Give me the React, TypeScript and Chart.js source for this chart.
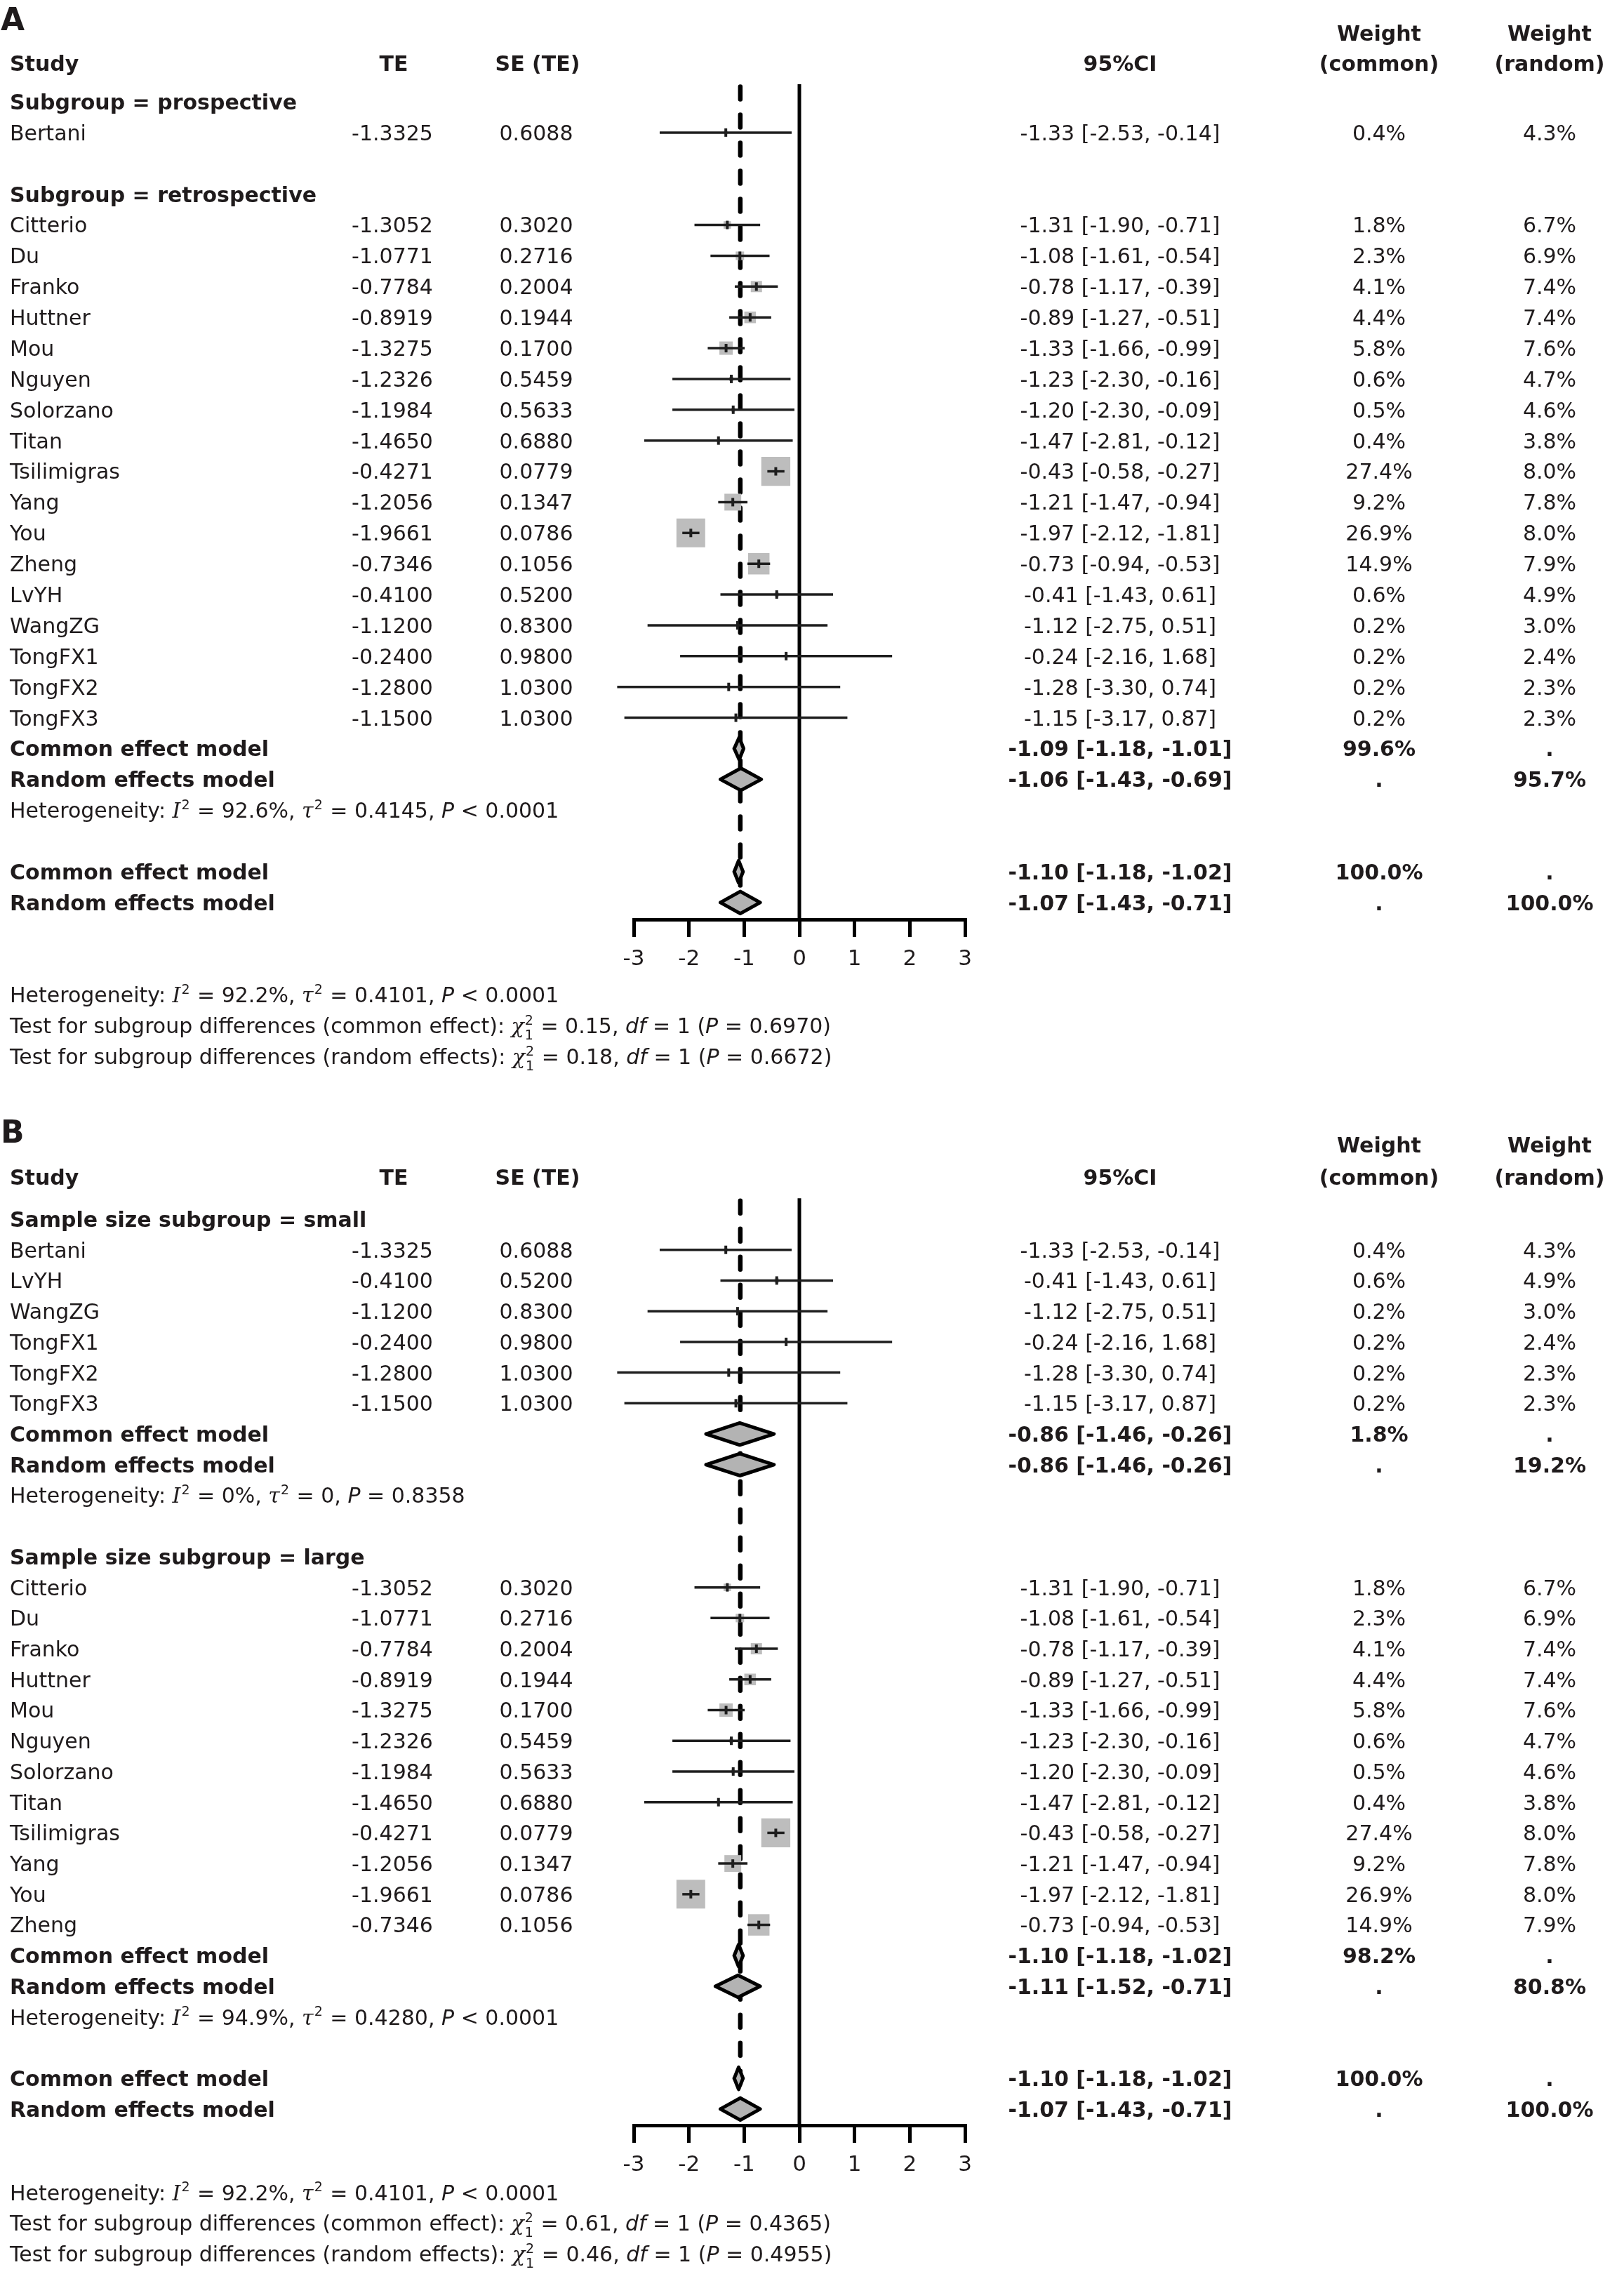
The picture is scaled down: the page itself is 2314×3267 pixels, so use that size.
import React, { useEffect, useRef } from 'react';
import { Chart, registerables } from 'chart.js';

Chart.register(...registerables);

// ---------------- data ----------------
const studyNames = ['Bertani', 'Citterio', 'Du', 'Franko', 'Huttner', 'Mou', 'Nguyen', 'Solorzano', 'Titan', 'Tsilimigras', 'Yang', 'You', 'Zheng', 'LvYH', 'WangZG', 'TongFX1', 'TongFX2', 'TongFX3'];
const studyTE = [-1.3325, -1.3052, -1.0771, -0.7784, -0.8919, -1.3275, -1.2326, -1.1984, -1.465, -0.4271, -1.2056, -1.9661, -0.7346, -0.41, -1.12, -0.24, -1.28, -1.15];
const studySE = [0.6088, 0.302, 0.2716, 0.2004, 0.1944, 0.17, 0.5459, 0.5633, 0.688, 0.0779, 0.1347, 0.0786, 0.1056, 0.52, 0.83, 0.98, 1.03, 1.03];
const ciLower = [-2.53, -1.9, -1.61, -1.17, -1.27, -1.66, -2.3, -2.3, -2.81, -0.58, -1.47, -2.12, -0.94, -1.43, -2.75, -2.16, -3.3, -3.17];
const ciUpper = [-0.14, -0.71, -0.54, -0.39, -0.51, -0.99, -0.16, -0.09, -0.12, -0.27, -0.94, -1.81, -0.53, 0.61, 0.51, 1.68, 0.74, 0.87];
const weightCommon = [0.4, 1.8, 2.3, 4.1, 4.4, 5.8, 0.6, 0.5, 0.4, 27.4, 9.2, 26.9, 14.9, 0.6, 0.2, 0.2, 0.2, 0.2];
const weightRandom = [4.3, 6.7, 6.9, 7.4, 7.4, 7.6, 4.7, 4.6, 3.8, 8.0, 7.8, 8.0, 7.9, 4.9, 3.0, 2.4, 2.3, 2.3];

const groupLabelsA = ['Subgroup = prospective', 'Subgroup = retrospective'];
const groupMembersA = [
  ['Bertani'],
  ['Citterio', 'Du', 'Franko', 'Huttner', 'Mou', 'Nguyen', 'Solorzano', 'Titan', 'Tsilimigras', 'Yang', 'You', 'Zheng', 'LvYH', 'WangZG', 'TongFX1', 'TongFX2', 'TongFX3'],
];
const groupCommonA = [null, [-1.09, -1.18, -1.01, 99.6]];
const groupRandomA = [null, [-1.06, -1.43, -0.69, 95.7]];
const groupHetA = [null, ['92.6%', '0.4145', '< 0.0001']];

const groupLabelsB = ['Sample size subgroup = small', 'Sample size subgroup = large'];
const groupMembersB = [
  ['Bertani', 'LvYH', 'WangZG', 'TongFX1', 'TongFX2', 'TongFX3'],
  ['Citterio', 'Du', 'Franko', 'Huttner', 'Mou', 'Nguyen', 'Solorzano', 'Titan', 'Tsilimigras', 'Yang', 'You', 'Zheng'],
];
const groupCommonB = [[-0.86, -1.46, -0.26, 1.8], [-1.1, -1.18, -1.02, 98.2]];
const groupRandomB = [[-0.86, -1.46, -0.26, 19.2], [-1.11, -1.52, -0.71, 80.8]];
const groupHetB = [['0%', '0', '= 0.8358'], ['94.9%', '0.4280', '< 0.0001']];
// diamonds of the "small" subgroup as they are actually plotted in the figure
const plottedDiamondB = [[-1.08, -1.69, -0.46], null];

const overallCommon = [-1.1, -1.18, -1.02, 100.0];
const overallRandom = [-1.07, -1.43, -0.71, 100.0];
const overallHet = ['92.2%', '0.4101', '< 0.0001'];
const subgroupTestA = [['common effect', '0.15', '0.6970'], ['random effects', '0.18', '0.6672']];
const subgroupTestB = [['common effect', '0.61', '0.4365'], ['random effects', '0.46', '0.4955']];

const xTicks = [-3, -2, -1, 0, 1, 2, 3];
const columnHeaders = ['Study', 'TE', 'SE (TE)', '95%CI'];
const weightHeaders = [['Weight', '(common)'], ['Weight', '(random)']];

// ---------------- layout / style ----------------
const W = 2314;
const X_LEFT = 903;
const X_RIGHT = 1375;
const AXIS_H = 80;
const FS = 30;
const FAMILY = '"DejaVu Sans", Verdana, sans-serif';
const INK = '#1f1b1c';
const DH = 0.36;
const COL = { study: 14, te: 559, se: 764, ci: 1596, wc: 1965, wr: 2208 };

const PANELS = [
  {
    key: 'A', top: 0, height: 1545, row0: 145, pitch: 43.88, yMin: -0.57, axisRow: 26.55,
    labelRow: -2.69, weightRow: -2.24, headRow: -1.25, footRow: 29,
    labels: groupLabelsA, members: groupMembersA, commons: groupCommonA, randoms: groupRandomA, hets: groupHetA, tests: subgroupTestA,
    plotted: [null, null],
  },
  {
    key: 'B', top: 1545, height: 1722, row0: 192, pitch: 43.72, yMin: -0.68, axisRow: 29.53,
    labelRow: -2.86, weightRow: -2.42, headRow: -1.37, footRow: 31.72,
    labels: groupLabelsB, members: groupMembersB, commons: groupCommonB, randoms: groupRandomB, hets: groupHetB, tests: subgroupTestB,
    plotted: plottedDiamondB,
  },
];

const fmt2 = (v: number) => {
  const a = Math.round(Math.abs(v) * 100 + 1e-7) / 100;
  return (v < 0 && a !== 0 ? '-' : '') + a.toFixed(2);
};
const fmt4 = (v: number) => (v < 0 ? '-' : '') + Math.abs(v).toFixed(4);
const ciText = (e: number, l: number, h: number) => `${fmt2(e)} [${fmt2(l)}, ${fmt2(h)}]`;
const pct = (w: number) => `${w.toFixed(1)}%`;

function buildRows(p: any) {
  const rows: any[] = [];
  p.labels.forEach((lab: string, g: number) => {
    rows.push({ kind: 'header', text: lab });
    p.members[g].forEach((name: string) => rows.push({ kind: 'study', i: studyNames.indexOf(name) }));
    if (p.commons[g]) {
      const pl = p.plotted[g];
      rows.push({ kind: 'common', v: p.commons[g], d: pl || p.commons[g] });
      rows.push({ kind: 'random', v: p.randoms[g], d: pl || p.randoms[g] });
      rows.push({ kind: 'het', h: p.hets[g] });
    }
    rows.push({ kind: 'blank' });
  });
  rows.push({ kind: 'common', v: overallCommon, d: overallCommon });
  rows.push({ kind: 'random', v: overallRandom, d: overallRandom });
  return rows.map((r, k) => ({ ...r, k }));
}

function put(ctx: any, s: string, x: number, yc: number, align: string, bold: boolean, size = FS) {
  ctx.font = `${bold ? 'bold ' : ''}${size}px ${FAMILY}`;
  ctx.textAlign = align;
  ctx.textBaseline = 'alphabetic';
  ctx.fillStyle = INK;
  ctx.fillText(s, x, yc + (size * 0.729) / 2);
}

function putRich(ctx: any, segs: any[], x: number, yc: number) {
  const base = yc + (FS * 0.729) / 2;
  let cx = x;
  ctx.textAlign = 'left';
  ctx.textBaseline = 'alphabetic';
  ctx.fillStyle = INK;
  for (const s of segs) {
    ctx.font = s.f === 'i' ? `italic ${FS}px ${FAMILY}` : s.f === 's' ? `italic ${FS}px "DejaVu Serif", serif` : `${FS}px ${FAMILY}`;
    ctx.fillText(s.t, cx, base);
    cx += ctx.measureText(s.t).width;
    if (s.sup || s.sub) {
      const ss = Math.round(FS * 0.62);
      ctx.font = `${ss}px ${FAMILY}`;
      let w = 0;
      if (s.sup) { ctx.fillText(s.sup, cx + 1, base - FS * 0.42); w = Math.max(w, ctx.measureText(s.sup).width); }
      if (s.sub) { ctx.fillText(s.sub, cx + 1, base + FS * 0.3); w = Math.max(w, ctx.measureText(s.sub).width); }
      cx += w + 2;
    }
  }
}

const EQ = ' = ';
function hetSegs(h: string[]) {
  const op = h[2].slice(0, 1);
  const rest = h[2].slice(1).trim();
  return [
    { t: 'Heterogeneity: ' },
    { t: 'I', f: 's', sup: '2' },
    { t: `${EQ}${h[0]}, ` },
    { t: '\u03C4', f: 's', sup: '2' },
    { t: `${EQ}${h[1]}, ` },
    { t: 'P', f: 'i' },
    { t: ` ${op} ${rest}` },
  ];
}
function testSegs(t: string[]) {
  return [
    { t: `Test for subgroup differences (${t[0]}): ` },
    { t: '\u03C7', f: 's', sup: '2', sub: '1' },
    { t: `${EQ}${t[1]}, ` },
    { t: 'df', f: 'i' },
    { t: `${EQ}1 (` },
    { t: 'P', f: 'i' },
    { t: `${EQ}${t[2]})` },
  ];
}

function makeConfig(p: any) {
  const rows = buildRows(p);
  const studyRows = rows.filter((r) => r.kind === 'study');
  const sumRows = rows.filter((r) => r.kind === 'common' || r.kind === 'random');
  const lastRandom = sumRows[sumRows.length - 1].k;
  const areaTop = p.row0 + p.yMin * p.pitch;
  const areaBottom = p.row0 + p.axisRow * p.pitch;

  const datasets: any[] = [];
  datasets.push({
    data: [{ x: 0, y: p.yMin }, { x: 0, y: p.axisRow }],
    borderColor: '#000', borderWidth: 5, pointRadius: 0, order: 10, clip: false,
  });
  datasets.push({
    data: [{ x: overallRandom[0], y: p.yMin + 0.08 }, { x: overallRandom[0], y: lastRandom - DH }],
    borderColor: '#000', borderWidth: 6.5, borderDash: [18, 22], borderCapStyle: 'round', pointRadius: 0, order: 9, clip: false,
  });
  datasets.push({
    data: studyRows.map((r) => ({ x: studyTE[r.i], y: r.k })),
    showLine: false, pointStyle: 'rect',
    pointRadius: studyRows.map((r) => (7.9 * Math.sqrt(weightCommon[r.i])) / Math.SQRT2),
    pointBackgroundColor: '#bdbdbd', pointBorderColor: '#bdbdbd', pointBorderWidth: 0, order: 6, clip: false,
  });
  studyRows.forEach((r) => {
    datasets.push({
      data: [{ x: ciLower[r.i], y: r.k }, { x: ciUpper[r.i], y: r.k }],
      borderColor: '#1e1e1e', borderWidth: 3.5, pointRadius: 0, order: 5, clip: false,
    });
  });
  datasets.push({
    data: studyRows.map((r) => ({ x: studyTE[r.i], y: r.k })),
    showLine: false, pointStyle: 'line', pointRotation: 90, pointRadius: 6,
    pointBorderWidth: 4, pointBorderColor: '#1e1e1e', order: 4, clip: false,
  });
  sumRows.forEach((r) => {
    const v = r.d;
    datasets.push({
      data: [
        { x: v[1], y: r.k }, { x: v[0], y: r.k - DH }, { x: v[2], y: r.k }, { x: v[0], y: r.k + DH }, { x: v[1], y: r.k },
      ],
      borderColor: '#000', borderWidth: 5, borderJoinStyle: 'round', borderCapStyle: 'round',
      backgroundColor: '#b3b3b3', fill: 'shape', pointRadius: 0, order: 1, clip: false,
    });
  });

  const textPlugin = {
    id: 'forestText' + p.key,
    afterDraw(chart: any) {
      const ctx = chart.ctx;
      const ys = chart.scales.y;
      const Y = (r: number) => ys.getPixelForValue(r);
      ctx.save();
      put(ctx, p.key, 1, Y(p.labelRow), 'left', true, 44);
      put(ctx, columnHeaders[0], COL.study, Y(p.headRow), 'left', true);
      put(ctx, columnHeaders[1], COL.te + 2, Y(p.headRow), 'center', true);
      put(ctx, columnHeaders[2], COL.se + 2, Y(p.headRow), 'center', true);
      put(ctx, columnHeaders[3], COL.ci, Y(p.headRow), 'center', true);
      put(ctx, weightHeaders[0][0], COL.wc, Y(p.weightRow), 'center', true);
      put(ctx, weightHeaders[0][1], COL.wc, Y(p.headRow), 'center', true);
      put(ctx, weightHeaders[1][0], COL.wr, Y(p.weightRow), 'center', true);
      put(ctx, weightHeaders[1][1], COL.wr, Y(p.headRow), 'center', true);

      rows.forEach((r) => {
        const y = Y(r.k);
        if (r.kind === 'header') {
          put(ctx, r.text, COL.study, y, 'left', true);
        } else if (r.kind === 'study') {
          const i = r.i;
          put(ctx, studyNames[i], COL.study, y, 'left', false);
          put(ctx, fmt4(studyTE[i]), COL.te, y, 'center', false);
          put(ctx, studySE[i].toFixed(4), COL.se, y, 'center', false);
          put(ctx, ciText(studyTE[i], ciLower[i], ciUpper[i]), COL.ci, y, 'center', false);
          put(ctx, pct(weightCommon[i]), COL.wc, y, 'center', false);
          put(ctx, pct(weightRandom[i]), COL.wr, y, 'center', false);
        } else if (r.kind === 'common' || r.kind === 'random') {
          const v = r.v;
          put(ctx, r.kind === 'common' ? 'Common effect model' : 'Random effects model', COL.study, y, 'left', true);
          put(ctx, ciText(v[0], v[1], v[2]), COL.ci, y, 'center', true);
          put(ctx, r.kind === 'common' ? pct(v[3]) : '.', COL.wc, y, 'center', true);
          put(ctx, r.kind === 'random' ? pct(v[3]) : '.', COL.wr, y, 'center', true);
        } else if (r.kind === 'het') {
          putRich(ctx, hetSegs(r.h), COL.study, y);
        }
      });

      putRich(ctx, hetSegs(overallHet), COL.study, Y(p.footRow));
      putRich(ctx, testSegs(p.tests[0]), COL.study, Y(p.footRow + 1));
      putRich(ctx, testSegs(p.tests[1]), COL.study, Y(p.footRow + 2));
      ctx.restore();
    },
  };

  return {
    type: 'line',
    data: { datasets },
    options: {
      responsive: false,
      animation: false,
      devicePixelRatio: 1,
      events: [],
      layout: {
        padding: { left: X_LEFT, right: W - X_RIGHT, top: areaTop, bottom: p.height - areaBottom - AXIS_H },
      },
      elements: { line: { tension: 0 } },
      plugins: { legend: { display: false }, tooltip: { enabled: false } },
      scales: {
        x: {
          type: 'linear', position: 'bottom', min: -3, max: 3,
          afterBuildTicks: (s: any) => { s.ticks = xTicks.map((v) => ({ value: v })); },
          afterFit: (s: any) => { s.height = AXIS_H; },
          grid: { display: true, drawOnChartArea: false, drawTicks: true, tickLength: 25, lineWidth: 5, color: '#000' },
          border: { display: true, width: 5, color: '#000' },
          ticks: { color: INK, font: { family: 'DejaVu Sans', size: 31 }, padding: 13, maxRotation: 0, autoSkip: false },
        },
        y: { type: 'linear', display: false, reverse: true, min: p.yMin, max: p.axisRow },
      },
    },
    plugins: [textPlugin],
  };
}

function ForestPanel({ panel }: { panel: any }) {
  const ref = useRef<HTMLCanvasElement>(null);
  useEffect(() => {
    if (!ref.current) return;
    const chart = new Chart(ref.current, makeConfig(panel) as any);
    return () => chart.destroy();
  }, [panel]);
  return (
    <canvas
      ref={ref}
      width={W}
      height={panel.height}
      style={{ position: 'absolute', left: 0, top: panel.top, width: W, height: panel.height }}
    />
  );
}

export default function App() {
  return (
    <div style={{ position: 'absolute', left: 0, top: 0, width: W, height: 3267, background: '#fff' }}>
      {PANELS.map((p) => (
        <ForestPanel key={p.key} panel={p} />
      ))}
    </div>
  );
}
